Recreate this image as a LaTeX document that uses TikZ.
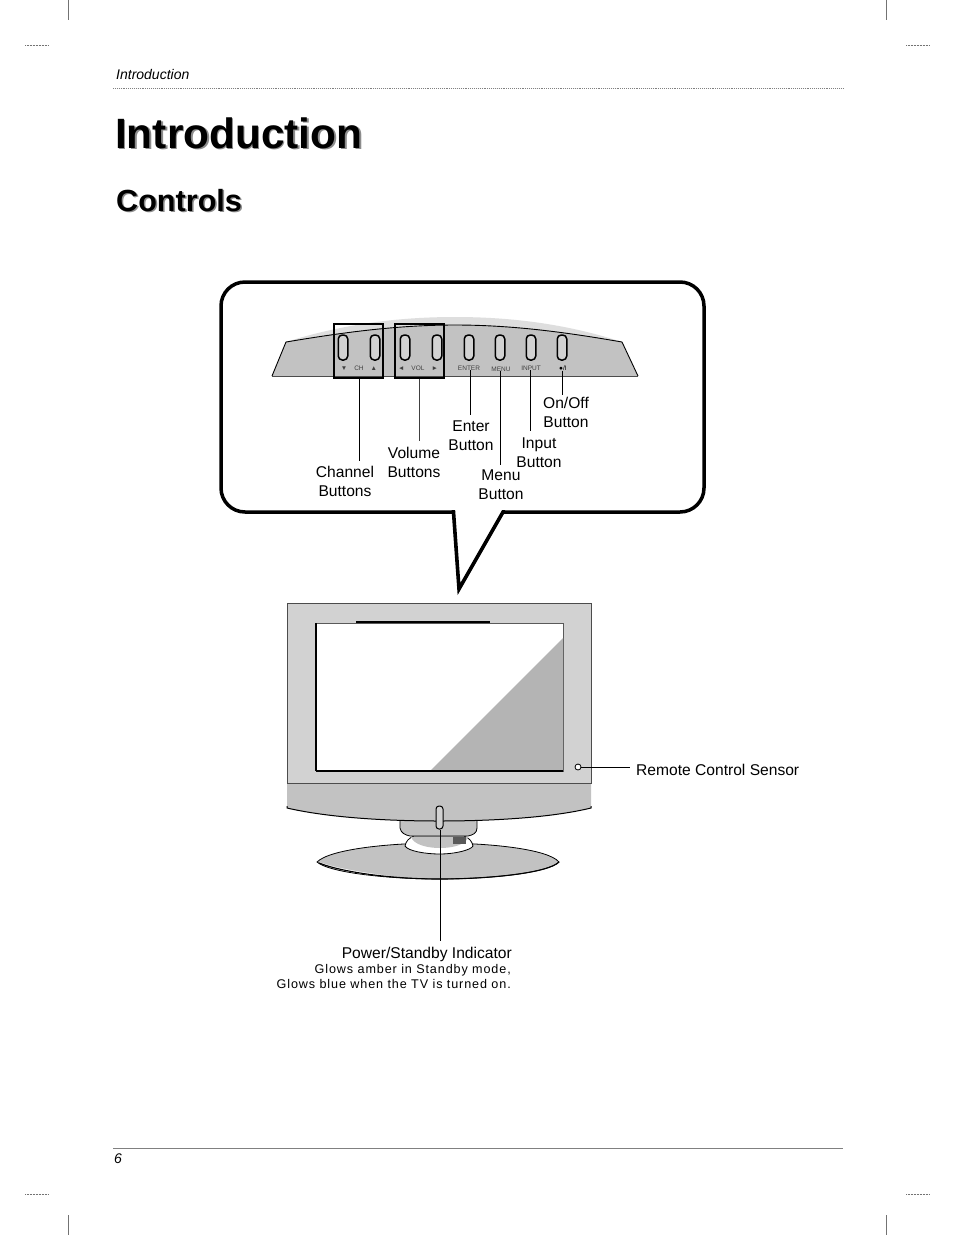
\documentclass[tikz,border=0pt]{standalone}
\usepackage{fontspec}
\setmainfont{Liberation Sans}
\definecolor{dith}{HTML}{C2C2C2}
\definecolor{dithL}{HTML}{D2D2D2}
\definecolor{dithT}{HTML}{DEDEDE}
\definecolor{dithD}{HTML}{B4B4B4}
\tikzset{
  lab/.style={inner sep=0pt,align=center,font=\fontsize{15.6}{19}\selectfont},
  tiny/.style={inner sep=0pt,font=\fontsize{6.5}{7}\selectfont,text=black!75},
  btn/.style={draw=black,line width=1.5pt,fill=dithL,rounded corners=4pt,minimum width=9.5pt,minimum height=25pt,inner sep=0pt},
  lead/.style={line width=1pt,black},
  crop/.style={line width=.5pt,black!55},
  frame/.style={draw=black,line width=1pt},
}
\begin{document}
\begin{tikzpicture}[x=1pt,y=-1pt]
\useasboundingbox[fill=white] (0,0) rectangle (954,1235);
% crop marks
\draw[crop] (68,0)--(68,20) (886,0)--(886,20) (68,1215)--(68,1235) (886,1215)--(886,1235);
\draw[crop,densely dotted] (25,45)--(48,45) (906,45)--(929,45) (25,1194)--(48,1194) (906,1194)--(929,1194);
% header
\node[anchor=base west,inner sep=0pt,font=\fontsize{14}{15}\selectfont\itshape] (hdr) at (116,79) {Introduction};
\draw[black!50,line width=.9pt,densely dotted] (113,88.5)--(843,88.5);
% titles
\node[anchor=base west,inner sep=0pt,font=\fontsize{42.4}{44}\selectfont\bfseries,text=black!45] (titleS) at (116.5,149.5) {Introduction};
\node[anchor=base west,inner sep=0pt,font=\fontsize{42.4}{44}\selectfont\bfseries] (title) at (115,148) {Introduction};
\node[anchor=base west,inner sep=0pt,font=\fontsize{30.6}{32}\selectfont\bfseries,text=black!45] (subS) at (117.5,212.5) {Controls};
\node[anchor=base west,inner sep=0pt,font=\fontsize{30.6}{32}\selectfont\bfseries] (sub) at (116,211) {Controls};
% callout
\draw[line width=3.5pt,black,rounded corners=24pt]
  (453,512)--(221,512)--(221,282)--(704,282)--(704,512)--(503,512);
\draw[black,line width=3.6pt,miter limit=20,line join=miter,line cap=butt] (451.6,512)--(453.5,512)--(459,589)--(503,512)--(505,512);
% panel
\path[fill=dithT] (272,376) -- (286,342) .. controls (340,325) and (395,317) .. (455,317)
  .. controls (515,317) and (570,325) .. (622,342) -- (638,376) -- cycle;
\path[fill=dith] (272,376) -- (286,342) .. controls (340,333) and (395,325) .. (455,325)
  .. controls (515,325) and (570,333) .. (622,342) -- (638,376) -- cycle;
\draw[black,line width=.9pt] (272,376)--(286,342) .. controls (340,333) and (395,325) .. (455,325)
  .. controls (515,325) and (570,333) .. (622,342) -- (638,376);
\draw[black!70,line width=.8pt] (272,376)--(638,376);
% buttons
\foreach \n/\x in {b1/343,b2/375,b3/405,b4/437,b5/469,b6/500,b7/531,b8/562}
  \node[btn] (\n) at (\x,347.5) {};
% panel texts
\node[tiny] (tch) at (359,368) {▼\hspace{7pt}CH\hspace{7pt}▲};
\node[tiny] (tvol) at (418,368) {◄\hspace{7pt}VOL\hspace{7pt}►};
\node[tiny] (tent) at (469,368) {ENTER};
\node[tiny] (tmen) at (501,369) {MENU};
\node[tiny] (tinp) at (531,368) {INPUT};
\node[tiny,text=black] (tpow) at (563,368) {●/I};
% boxes
\node[draw=black,line width=1.3pt,minimum width=49pt,minimum height=54pt,inner sep=0pt] (chbox) at (358.5,351) {};
\node[draw=black,line width=1.3pt,minimum width=49pt,minimum height=54pt,inner sep=0pt] (volbox) at (419.5,351) {};
% labels
\node[lab] (lonoff) at (566,412.5) {On/Off\\Button};
\node[lab] (lenter) at (471,435.5) {Enter\\Button};
\node[lab] (linput) at (539,452.5) {Input\\Button};
\node[lab] (lmenu) at (501,485) {Menu\\Button};
\node[lab] (lvol) at (414,462.5) {Volume\\Buttons};
\node[lab] (lchan) at (345,481.5) {Channel\\Buttons};
% leaders
\coordinate (ech) at (359,461);
\coordinate (evol) at (419,441);
\coordinate (een) at (470,415);
\coordinate (eme) at (500,465);
\coordinate (ein) at (530,431);
\coordinate (eon) at (562,395);
\draw[lead] (chbox.south -| ech) -- (ech);
\draw[lead,black!75] (volbox.south -| evol) -- (evol);
\draw[lead] (tent.south -| een) -- (een);
\draw[lead] (tmen.south -| eme) -- (eme);
\draw[lead] (tinp.south -| ein) -- (ein);
\draw[lead] (tpow.south -| eon) -- (eon);
% base of stand
\path[fill=dith,draw=black,line width=.8pt] (317,862) .. controls (330,849) and (390,843) .. (439,843)
  .. controls (490,843) and (548,849) .. (559,862) .. controls (548,873) and (490,879) .. (439,879)
  .. controls (390,879) and (330,873) .. (317,862) -- cycle;
\path[fill=white] (319,862) .. controls (335,870) and (360,875) .. (390,876) .. controls (360,872) and (335,868) .. (319,862) -- cycle;
\draw[black,line width=1.1pt] (319,863) .. controls (345,873) and (395,879) .. (439,879) .. controls (490,879) and (548,873) .. (559,862);
% ring and neck
\path[fill=white,draw=black,line width=.8pt] (405,846) .. controls (406,841) and (409,838) .. (414,836) -- (464,836)
  .. controls (469,838) and (472,841) .. (473,846) .. controls (471,850) and (455,854) .. (440,854)
  .. controls (425,854) and (408,851) .. (405,846) -- cycle;
\path[fill=dith] (411,837) -- (468,837) .. controls (466,845) and (452,848) .. (440,848) .. controls (428,848) and (414,845) .. (411,837) -- cycle;
\fill[black!65] (453,837) rectangle (466,844);
\path[fill=dith,draw=black,line width=.8pt] (400,815) -- (400,828) .. controls (401,833) and (405,835) .. (410,836)
  -- (468,836) .. controls (473,835) and (477,833) .. (477,828) -- (477,815) -- cycle;
% TV body
\path[fill=dith] (287,783) -- (287,808) .. controls (330,818) and (390,821) .. (439,821)
  .. controls (490,821) and (550,818) .. (591,808) -- (591,783) -- cycle;
\draw[frame] (287,806) -- (287,808) .. controls (330,818) and (390,821) .. (439,821)
  .. controls (490,821) and (550,818) .. (591,808) -- (591,806);
\node[draw=black!70,line width=.7pt,fill=dithL,minimum width=304pt,minimum height=180pt,inner sep=0pt,anchor=north west] (bezel) at (287,603) {};
\draw[black!70,line width=.8pt] (287,783)--(591,783);
% screen
\node[draw=black!65,line width=.8pt,fill=white,minimum width=247pt,minimum height=148pt,inner sep=0pt,anchor=north west] (screen) at (316,623) {};
\fill[dithD] (563,638) -- (430,771) -- (563,771) -- cycle;
\draw[black,line width=1.1pt] (316,771)--(563,771);
\draw[black,line width=1.2pt] (316,623)--(316,771);
\draw[black,line width=2pt] (356,622)--(490,622);
% indicator & sensor
\node[draw=black,line width=1pt,fill=dithL,rounded corners=3pt,minimum width=7pt,minimum height=23pt,inner sep=0pt] (led) at (439.5,817.5) {};
\node[circle,draw=black,line width=.8pt,fill=white,minimum size=6pt,inner sep=0pt] (sensor) at (578,767) {};
\node[lab,anchor=base west] (lsensor) at (636,775) {Remote Control Sensor};
\coordinate (esens) at (630,767);
\draw[lead] (sensor) -- (esens);
% indicator text
\node[lab,anchor=base east,font=\fontsize{15.6}{18}\selectfont] (lpow) at (512,958) {Power/Standby Indicator};
\node[inner sep=0pt,anchor=base east,font=\fontsize{12.6}{15}\selectfont\addfontfeature{LetterSpace=7}] (lglow1) at (511,973) {Glows amber in Standby mode,};
\node[inner sep=0pt,anchor=base east,font=\fontsize{12.6}{15}\selectfont\addfontfeature{LetterSpace=7}] (lglow2) at (511,988) {Glows blue when the TV is turned on.};
\coordinate (epow) at (440,941);
\draw[lead] (led.south -| epow) -- (epow);
% footer
\draw[black!50,line width=.7pt] (113,1148.5)--(843,1148.5);
\node[anchor=base west,inner sep=0pt,font=\fontsize{14}{15}\selectfont\itshape] (pg) at (114,1163) {6};
\end{tikzpicture}
\end{document}
